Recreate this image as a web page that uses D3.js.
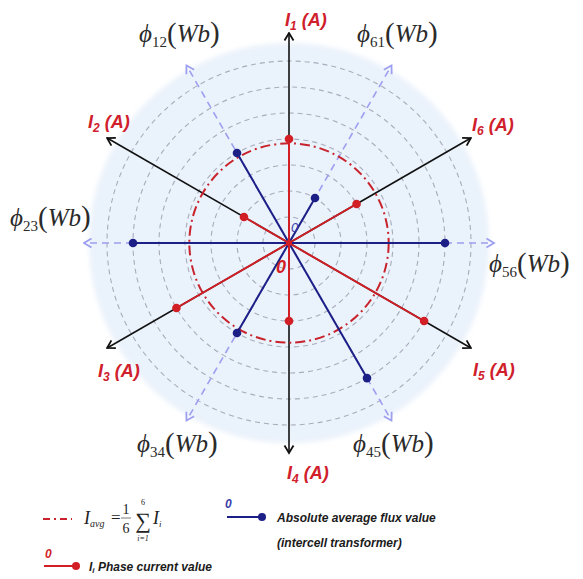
<!DOCTYPE html>
<html>
<head>
<meta charset="utf-8">
<script src="https://cdn.jsdelivr.net/npm/d3@7/dist/d3.min.js"></script>
<style>
  html, body { margin: 0; padding: 0; background: #ffffff; }
  svg { display: block; }
</style>
</head>
<body>
<svg id="chart" width="583" height="579"></svg>
<script>
// Phase currents I1..I6 (A), in grid units, and the direction of each phase axis (degrees)
const phaseNames = ["1", "2", "3", "4", "5", "6"];
const phaseAngles = [90, 150, 210, 270, 330, 30];
const phaseCurrents = [4, 2, 5, 3, 6, 3];

// Absolute average flux of each intercell transformer (Wb), in grid units
const fluxNames = ["12", "23", "34", "45", "56", "61"];
const fluxAngles = [120, 180, 240, 300, 0, 60];
const fluxValues = [4, 6, 4, 6, 6, 2];

// Concentric grid rings
const gridLevels = [1, 2, 3, 4, 5, 6, 7];

// ---- layout ----
const cx = 289, cy = 243;
const r = d3.scaleLinear().domain([0, 7]).range([0, 182]);
const discRadius = 200;
const phaseAxisLen = 210;
const fluxAxisLen = 205;

const red = "#d21f26";
const navy = "#1c1f86";
const lightBlue = "#9d9ff0";

const sans = "'Liberation Sans', Arial, sans-serif";
const serif = "'Liberation Serif', 'Times New Roman', serif";

const svg = d3.select("#chart");
const defs = svg.append("defs");

defs.append("filter").attr("id", "soft")
  .attr("x", "-10%").attr("y", "-10%").attr("width", "120%").attr("height", "120%")
  .append("feGaussianBlur").attr("stdDeviation", 2.5);

function marker(id, color) {
  defs.append("marker")
    .attr("id", id)
    .attr("viewBox", "-1 -6 10 12")
    .attr("refX", 7.5).attr("refY", 0)
    .attr("markerWidth", 10).attr("markerHeight", 12)
    .attr("markerUnits", "userSpaceOnUse")
    .attr("orient", "auto")
    .append("path")
    .attr("d", "M0,-4.5 L7.5,0 L0,4.5")
    .attr("fill", "none")
    .attr("stroke", color)
    .attr("stroke-width", 1.8)
    .attr("stroke-dasharray", "none");
}
marker("arrowBlack", "#111");
marker("arrowBlue", lightBlue);

const pt = (deg, rad) => {
  const a = deg * Math.PI / 180;
  return [cx + rad * Math.cos(a), cy - rad * Math.sin(a)];
};

const g = svg.append("g");

// background disc with a soft rim
g.append("circle")
  .attr("cx", cx).attr("cy", cy).attr("r", discRadius)
  .attr("fill", "#eaf2fb")
  .attr("filter", "url(#soft)");

// dashed grid rings
g.selectAll("circle.grid")
  .data(gridLevels)
  .join("circle")
  .attr("class", "grid")
  .attr("cx", cx).attr("cy", cy)
  .attr("r", d => r(d))
  .attr("fill", "none")
  .attr("stroke", "#a9acbc")
  .attr("stroke-width", 1.1)
  .attr("stroke-dasharray", "5,4");

// flux axes (light blue dashed arrows)
g.selectAll("line.fluxAxis")
  .data(fluxAngles)
  .join("line")
  .attr("class", "fluxAxis")
  .attr("x1", cx).attr("y1", cy)
  .attr("x2", d => pt(d, fluxAxisLen)[0])
  .attr("y2", d => pt(d, fluxAxisLen)[1])
  .attr("stroke", lightBlue)
  .attr("stroke-width", 1.6)
  .attr("stroke-dasharray", "7,5")
  .attr("marker-end", "url(#arrowBlue)");

// phase axes (black arrows)
g.selectAll("line.phaseAxis")
  .data(phaseAngles)
  .join("line")
  .attr("class", "phaseAxis")
  .attr("x1", cx).attr("y1", cy)
  .attr("x2", d => pt(d, phaseAxisLen)[0])
  .attr("y2", d => pt(d, phaseAxisLen)[1])
  .attr("stroke", "#111")
  .attr("stroke-width", 1.6)
  .attr("marker-end", "url(#arrowBlack)");

// average current ring
const avg = d3.mean(phaseCurrents);
g.append("circle")
  .attr("cx", cx).attr("cy", cy)
  .attr("r", r(avg))
  .attr("fill", "none")
  .attr("stroke", "#c8232c")
  .attr("stroke-width", 2)
  .attr("stroke-dasharray", "10,4,2,4");

// flux vectors
const flux = fluxValues.map((v, i) => ({ v, a: fluxAngles[i] }));
g.selectAll("line.flux")
  .data(flux)
  .join("line")
  .attr("class", "flux")
  .attr("x1", cx).attr("y1", cy)
  .attr("x2", d => pt(d.a, r(d.v))[0])
  .attr("y2", d => pt(d.a, r(d.v))[1])
  .attr("stroke", navy)
  .attr("stroke-width", 2);

// current vectors
const cur = phaseCurrents.map((v, i) => ({ v, a: phaseAngles[i] }));
g.selectAll("line.cur")
  .data(cur)
  .join("line")
  .attr("class", "cur")
  .attr("x1", cx).attr("y1", cy)
  .attr("x2", d => pt(d.a, r(d.v))[0])
  .attr("y2", d => pt(d.a, r(d.v))[1])
  .attr("stroke", red)
  .attr("stroke-width", 2);

g.selectAll("circle.fluxDot")
  .data(flux)
  .join("circle")
  .attr("class", "fluxDot")
  .attr("cx", d => pt(d.a, r(d.v))[0])
  .attr("cy", d => pt(d.a, r(d.v))[1])
  .attr("r", 4.3)
  .attr("fill", navy);

g.selectAll("circle.curDot")
  .data(cur)
  .join("circle")
  .attr("class", "curDot")
  .attr("cx", d => pt(d.a, r(d.v))[0])
  .attr("cy", d => pt(d.a, r(d.v))[1])
  .attr("r", 4.3)
  .attr("fill", red);

g.append("circle").attr("cx", cx).attr("cy", cy).attr("r", 3).attr("fill", red);

// origin markers
g.append("text").attr("x", 276).attr("y", 273)
  .attr("font-family", sans)
  .attr("font-style", "italic").attr("font-weight", "bold")
  .attr("font-size", 18).attr("fill", red).text("0");
g.append("text").attr("x", 291).attr("y", 232)
  .attr("font-family", sans)
  .attr("font-style", "italic")
  .attr("font-size", 13).attr("fill", "#3a3dab").text("0");

// ---- axis labels ----
const phaseLabelPos = {
  "1": [285, 26], "2": [88, 128], "3": [98, 377],
  "4": [287, 479], "5": [473, 376], "6": [472, 131]
};
phaseNames.forEach(n => {
  const [x, y] = phaseLabelPos[n];
  const t = svg.append("text").attr("x", x).attr("y", y)
    .attr("font-family", sans).attr("font-weight", "bold")
    .attr("font-style", "italic").attr("font-size", 18)
    .attr("fill", "#d0202c");
  t.append("tspan").text("I");
  t.append("tspan").attr("font-size", 12).attr("dy", 4).text(n);
  t.append("tspan").attr("dy", -4).text(" (A)");
});

const fluxLabelPos = {
  "12": [139, 42], "23": [10, 226], "34": [137, 452],
  "45": [353, 452], "56": [489, 272], "61": [357, 42]
};
fluxNames.forEach(n => {
  const [x, y] = fluxLabelPos[n];
  const t = svg.append("text").attr("x", x).attr("y", y)
    .attr("font-family", serif).attr("fill", "#2a2a2a");
  t.append("tspan").attr("font-style", "italic").attr("font-size", 25).text("\u03D5");
  t.append("tspan").attr("font-size", 15).attr("dy", 5).text(n);
  t.append("tspan").attr("font-size", 29).attr("dy", -4).text("(");
  t.append("tspan").attr("font-style", "italic").attr("font-size", 25).attr("dy", -1).text("Wb");
  t.append("tspan").attr("font-size", 29).attr("dy", 0).text(")");
});

// ---- legend ----
const lg = svg.append("g");

// average ring entry
lg.append("line").attr("x1", 43).attr("x2", 72).attr("y1", 519).attr("y2", 519)
  .attr("stroke", "#c8232c").attr("stroke-width", 2)
  .attr("stroke-dasharray", "7,4,2,4");
const f = lg.append("g").attr("font-family", serif).attr("fill", "#222");
const fi = f.append("text").attr("x", 84).attr("y", 524).attr("font-size", 18);
fi.append("tspan").attr("font-style", "italic").text("I");
fi.append("tspan").attr("font-style", "italic").attr("font-size", 10).attr("dy", 3).text("avg");
f.append("text").attr("x", 111).attr("y", 523).attr("font-size", 17).text("=");
f.append("text").attr("x", 126).attr("y", 514).attr("font-size", 14).attr("text-anchor", "middle").text("1");
f.append("line").attr("x1", 121).attr("x2", 131).attr("y1", 518).attr("y2", 518)
  .attr("stroke", "#444").attr("stroke-width", 0.7);
f.append("text").attr("x", 126).attr("y", 533).attr("font-size", 14).attr("text-anchor", "middle").text("6");
f.append("text").attr("x", 143).attr("y", 528).attr("font-size", 22).attr("text-anchor", "middle").text("\u2211");
f.append("text").attr("x", 143).attr("y", 505).attr("font-size", 8).attr("text-anchor", "middle").text("6");
f.append("text").attr("x", 143).attr("y", 541).attr("font-size", 8).attr("text-anchor", "middle").attr("font-style", "italic").text("i=1");
const fi2 = f.append("text").attr("x", 153).attr("y", 524).attr("font-size", 18);
fi2.append("tspan").attr("font-style", "italic").text("I");
fi2.append("tspan").attr("font-style", "italic").attr("font-size", 9).attr("dy", 3).text("i");

// flux entry
lg.append("text").attr("x", 225).attr("y", 508)
  .attr("font-family", sans).attr("font-style", "italic").attr("font-weight", "bold")
  .attr("font-size", 12).attr("fill", "#3a3dab").text("0");
lg.append("line").attr("x1", 227).attr("x2", 262).attr("y1", 517).attr("y2", 517)
  .attr("stroke", navy).attr("stroke-width", 2);
lg.append("circle").attr("cx", 262).attr("cy", 517).attr("r", 4).attr("fill", navy);
lg.append("text").attr("x", 277).attr("y", 522)
  .attr("font-family", sans).attr("font-style", "italic").attr("font-weight", "bold")
  .attr("font-size", 12).attr("fill", "#1a1a1a").text("Absolute average flux value");
lg.append("text").attr("x", 277).attr("y", 547)
  .attr("font-family", sans).attr("font-style", "italic").attr("font-weight", "bold")
  .attr("font-size", 12).attr("fill", "#1a1a1a").text("(intercell transformer)");

// current entry
lg.append("text").attr("x", 45).attr("y", 558)
  .attr("font-family", sans).attr("font-style", "italic").attr("font-weight", "bold")
  .attr("font-size", 12).attr("fill", red).text("0");
lg.append("line").attr("x1", 44).attr("x2", 76).attr("y1", 566).attr("y2", 566)
  .attr("stroke", red).attr("stroke-width", 2);
lg.append("circle").attr("cx", 76).attr("cy", 566).attr("r", 4).attr("fill", red);
const ct = lg.append("text").attr("x", 89).attr("y", 571)
  .attr("font-family", sans).attr("font-style", "italic").attr("font-weight", "bold")
  .attr("font-size", 12).attr("fill", "#1a1a1a");
ct.append("tspan").text("I");
ct.append("tspan").attr("font-size", 8).attr("dy", 2).text("i");
ct.append("tspan").attr("dy", -2).text(" Phase current value");
</script>
</body>
</html>
